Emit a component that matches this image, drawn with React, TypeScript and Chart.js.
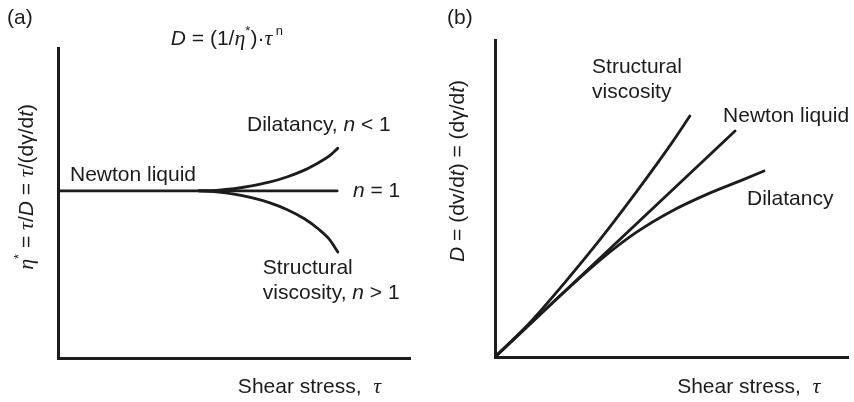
import React, { useEffect, useRef } from "react";
import { Chart, registerables } from "chart.js";

Chart.register(...registerables);

// ---- Panel (a): apparent viscosity η* versus shear stress τ ----
const aNewtonTau = [0, 7.93];
const aNewtonEta = [5.39, 5.39];
const aDilatancyTau = [4.0, 4.5, 5.0, 5.5, 6.0, 6.5, 7.0, 7.4, 7.7, 7.95];
const aDilatancyEta = [5.39, 5.41, 5.46, 5.55, 5.67, 5.84, 6.06, 6.3, 6.51, 6.77];
const aStructuralTau = [4.0, 4.5, 5.0, 5.5, 6.0, 6.5, 7.0, 7.4, 7.7, 7.95];
const aStructuralEta = [5.39, 5.36, 5.29, 5.17, 5.01, 4.79, 4.49, 4.16, 3.84, 3.42];

// ---- Panel (b): shear rate D versus shear stress τ ----
const bNewtonTau = [0, 6.8];
const bNewtonD = [0, 7.13];
const bStructuralTau = [0, 1, 2, 3, 4, 5, 5.52];
const bStructuralD = [0, 1.1, 2.38, 3.74, 5.2, 6.74, 7.6];
const bDilatancyTau = [0, 1, 2, 3, 4, 5, 6, 7, 7.62];
const bDilatancyD = [0, 1.05, 2.09, 3.08, 3.93, 4.6, 5.13, 5.58, 5.87];

const INK = "#1c1c1c";
const FONT_SIZE = 21;

type Run = { t: string; i?: boolean; s?: boolean; sup?: boolean };
type Note = { runs: Run[]; x: number; y: number; align?: "left" | "center"; rotate?: boolean };

function fontFor(r: Run) {
  const size = r.sup ? Math.round(FONT_SIZE * 0.62) : r.s ? FONT_SIZE + 1 : FONT_SIZE;
  const fam = r.s ? '"Liberation Serif", serif' : '"Liberation Sans", Arial, sans-serif';
  return `${r.i ? "italic " : ""}${size}px ${fam}`;
}

function drawRuns(ctx: CanvasRenderingContext2D, runs: Run[], x: number, y: number, align: string) {
  const widths = runs.map((r) => {
    ctx.font = fontFor(r);
    return ctx.measureText(r.t).width;
  });
  const total = widths.reduce((a, b) => a + b, 0);
  let cx = align === "center" ? x - total / 2 : x;
  ctx.textAlign = "left";
  ctx.textBaseline = "middle";
  runs.forEach((r, k) => {
    ctx.font = fontFor(r);
    ctx.fillText(r.t, cx, y + (r.sup ? -FONT_SIZE * 0.38 : 0));
    cx += widths[k];
  });
}

const notesPlugin = {
  id: "notes",
  afterDraw(chart: any, _args: any, opts: any) {
    const ctx: CanvasRenderingContext2D = chart.ctx;
    const xs = chart.scales.x;
    const ys = chart.scales.y;
    ctx.save();
    ctx.fillStyle = INK;
    (opts.items as Note[]).forEach((n) => {
      const px = xs.getPixelForValue(n.x);
      const py = ys.getPixelForValue(n.y);
      if (n.rotate) {
        ctx.save();
        ctx.translate(px, py);
        ctx.rotate(-Math.PI / 2);
        drawRuns(ctx, n.runs, 0, 0, "center");
        ctx.restore();
      } else {
        drawRuns(ctx, n.runs, px, py, n.align || "left");
      }
    });
    ctx.restore();
  },
};

const shearLabel: Run[] = [{ t: "Shear stress,  " }, { t: "τ", i: true, s: true }];

const notesA: Note[] = [
  { runs: [{ t: "(a)" }], x: -1.45, y: 10.97 },
  {
    runs: [
      { t: "D", i: true },
      { t: " = (1/" },
      { t: "η", i: true, s: true },
      { t: "*", sup: true },
      { t: ")·" },
      { t: "τ", i: true, s: true },
      { t: " n", sup: true },
    ],
    x: 4.8,
    y: 10.29,
    align: "center",
  },
  {
    runs: [
      { t: "η", i: true, s: true },
      { t: "*", sup: true },
      { t: " = " },
      { t: "τ", i: true, s: true },
      { t: "/" },
      { t: "D", i: true },
      { t: " = " },
      { t: "τ", i: true, s: true },
      { t: "/(dγ/d" },
      { t: "t", i: true },
      { t: ")" },
    ],
    x: -0.88,
    y: 5.52,
    rotate: true,
  },
  { runs: [{ t: "Newton liquid" }], x: 0.34, y: 5.9 },
  { runs: [{ t: "n", i: true }, { t: " = 1" }], x: 8.38, y: 5.39 },
  { runs: [{ t: "Dilatancy, " }, { t: "n", i: true }, { t: " < 1" }], x: 5.37, y: 7.52 },
  { runs: [{ t: "Structural" }], x: 5.82, y: 2.9 },
  { runs: [{ t: "viscosity, " }, { t: "n", i: true }, { t: " > 1" }], x: 5.82, y: 2.1 },
  { runs: shearLabel, x: 5.11, y: -0.94 },
];

const notesB: Note[] = [
  { runs: [{ t: "(b)" }], x: -1.36, y: 10.69 },
  {
    runs: [
      { t: "D", i: true },
      { t: " = (dv/d" },
      { t: "t", i: true },
      { t: ") = (dγ/d" },
      { t: "t", i: true },
      { t: ")" },
    ],
    x: -1.05,
    y: 5.87,
    rotate: true,
  },
  { runs: [{ t: "Structural" }], x: 2.75, y: 9.15 },
  { runs: [{ t: "viscosity" }], x: 2.75, y: 8.36 },
  { runs: [{ t: "Newton liquid" }], x: 6.46, y: 7.6 },
  { runs: [{ t: "Dilatancy" }], x: 7.14, y: 4.98 },
  { runs: shearLabel, x: 5.16, y: -0.95 },
];

function points(xs: number[], ys: number[]) {
  return xs.map((x, k) => ({ x, y: ys[k] }));
}

function curve(label: string, xs: number[], ys: number[]) {
  return {
    label,
    data: points(xs, ys),
    showLine: true,
    borderColor: INK,
    borderWidth: 2.8,
    borderCapStyle: "round" as const,
    pointRadius: 0,
    cubicInterpolationMode: "monotone" as const,
    fill: false,
  };
}

const datasetsA = [
  curve("Newton liquid", aNewtonTau, aNewtonEta),
  curve("Dilatancy", aDilatancyTau, aDilatancyEta),
  curve("Structural viscosity", aStructuralTau, aStructuralEta),
];

const datasetsB = [
  curve("Newton liquid", bNewtonTau, bNewtonD),
  curve("Structural viscosity", bStructuralTau, bStructuralD),
  curve("Dilatancy", bDilatancyTau, bDilatancyD),
];

function axis() {
  return {
    type: "linear" as const,
    min: 0,
    max: 10,
    ticks: { display: false },
    grid: { display: false },
    border: { display: true, width: 3, color: INK },
    afterFit: (s: any) => {
      if (s.isHorizontal()) s.height = 0;
      else s.width = 0;
    },
  };
}

type PanelProps = {
  datasets: any[];
  notes: Note[];
  padding: { left: number; right: number; top: number; bottom: number };
  left: number;
};

function Panel({ datasets, notes, padding, left }: PanelProps) {
  const ref = useRef<HTMLCanvasElement>(null);
  useEffect(() => {
    if (!ref.current) return;
    const chart = new Chart(ref.current, {
      type: "scatter",
      data: { datasets },
      options: {
        responsive: false,
        animation: false,
        devicePixelRatio: 1,
        layout: { padding },
        scales: { x: axis(), y: axis() },
        plugins: {
          legend: { display: false },
          tooltip: { enabled: false },
          notes: { items: notes },
        } as any,
      },
      plugins: [notesPlugin],
    });
    return () => chart.destroy();
  }, []);
  return (
    <canvas
      ref={ref}
      width={427}
      height={402}
      style={{ position: "absolute", left, top: 0, width: 427, height: 402 }}
    />
  );
}

export default function App() {
  return (
    <div
      style={{
        position: "absolute",
        left: 0,
        top: 0,
        width: 854,
        height: 402,
        background: "#ffffff",
        overflow: "hidden",
      }}
    >
      <Panel
        datasets={datasetsA}
        notes={notesA}
        padding={{ left: 58, right: 17, top: 48, bottom: 44 }}
        left={0}
      />
      <Panel
        datasets={datasetsB}
        notes={notesB}
        padding={{ left: 68, right: 6, top: 40, bottom: 45 }}
        left={427}
      />
    </div>
  );
}
